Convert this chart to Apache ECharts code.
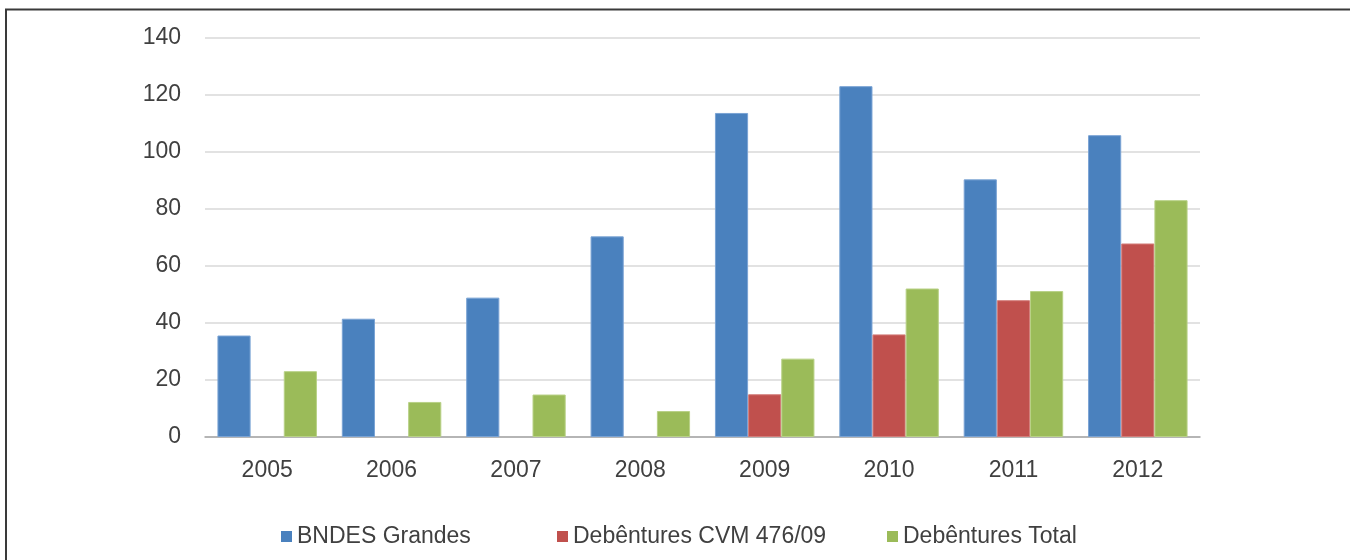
<!DOCTYPE html>
<html>
<head>
<meta charset="utf-8">
<script src="https://cdn.jsdelivr.net/npm/echarts@6/dist/echarts.min.js"></script>
<style>
  html, body { margin: 0; padding: 0; background: #fff; }
  #main { width: 1350px; height: 560px; }
</style>
</head>
<body>
<div id="main"></div>
<script>
// dados
var anos = ['2005', '2006', '2007', '2008', '2009', '2010', '2011', '2012'];
var bndesGrandes = [35.6, 41.5, 48.9, 70.4, 113.7, 123.1, 90.4, 105.9];
var debCvm = [null, null, null, null, 15.0, 36.0, 48.0, 67.9];
var debTotal = [23.1, 12.3, 14.9, 9.1, 27.5, 52.1, 51.2, 83.1];
var yTicks = [0, 20, 40, 60, 80, 100, 120, 140];

var fonte = '"Liberation Sans", Arial, sans-serif';
var corTexto = '#404040';

var myChart = echarts.init(document.getElementById('main'));

function legenda(nome, esquerda) {
    return {
        data: [nome],
        left: esquerda,
        top: 520,
        itemWidth: 11,
        itemHeight: 11,
        icon: 'rect',
        itemStyle: { borderWidth: 0 },
        textStyle: { fontFamily: fonte, fontSize: 23, color: corTexto }
    };
}

var option = {
    animation: false,
    backgroundColor: '#fff',
    graphic: [
        { type: 'line', shape: { x1: 5, y1: 9.5, x2: 1350, y2: 9.5 }, style: { stroke: '#3a3a3a', lineWidth: 2 } },
        { type: 'line', shape: { x1: 6, y1: 9, x2: 6, y2: 560 }, style: { stroke: '#3a3a3a', lineWidth: 2 } }
    ],
    legend: [
        legenda('BNDES Grandes', 276),
        legenda('Debêntures CVM 476/09', 552),
        legenda('Debêntures Total', 882)
    ],
    grid: { left: 205, right: 150, top: 38, bottom: 123 },
    xAxis: {
        type: 'category',
        data: anos,
        axisTick: { show: false },
        axisLine: { lineStyle: { color: '#a6a6a6', width: 1.5 } },
        axisLabel: { fontFamily: fonte, fontSize: 23, color: corTexto, margin: 22 }
    },
    yAxis: {
        type: 'value',
        min: yTicks[0],
        max: yTicks[yTicks.length - 1],
        interval: 20,
        axisLine: { show: false },
        axisTick: { show: false },
        splitLine: { lineStyle: { color: '#d9d9d9', width: 1.5 } },
        axisLabel: { fontFamily: fonte, fontSize: 23, color: corTexto, margin: 24 }
    },
    series: [{
        name: 'BNDES Grandes',
        type: 'bar',
        data: bndesGrandes,
        barGap: '0%',
        barCategoryGap: '20%',
        itemStyle: { color: '#4a81be', borderColor: '#7aa3d4', borderWidth: 1 }
    }, {
        name: 'Debêntures CVM 476/09',
        type: 'bar',
        data: debCvm,
        itemStyle: { color: '#c0504d', borderColor: '#d37d7a', borderWidth: 1 }
    }, {
        name: 'Debêntures Total',
        type: 'bar',
        data: debTotal,
        itemStyle: { color: '#9bbb59', borderColor: '#b8d186', borderWidth: 1 }
    }]
};
myChart.setOption(option);
</script>
</body>
</html>
